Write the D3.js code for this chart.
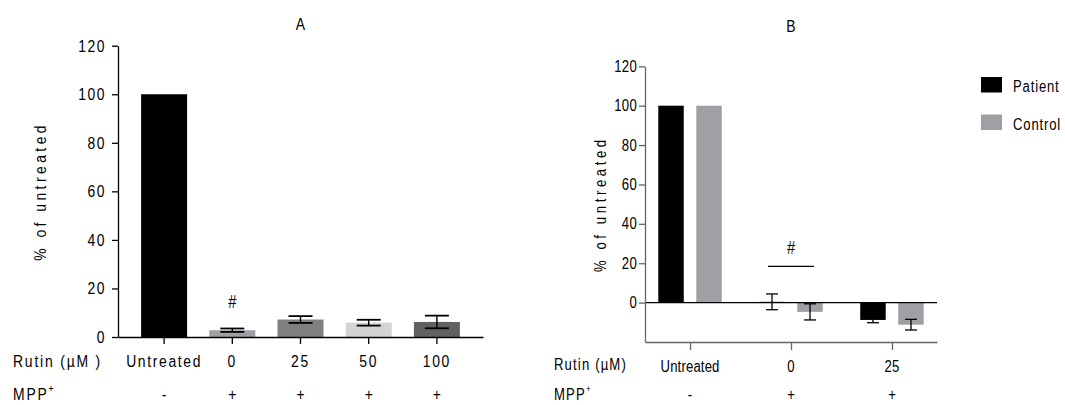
<!DOCTYPE html>
<html><head><meta charset="utf-8">
<script src="https://cdn.jsdelivr.net/npm/d3@7"></script>
<style>
body{margin:0;background:#fff}
svg{display:block}
text{font-family:"Liberation Sans",Arial,sans-serif;fill:#000}
</style>
</head><body>
<svg id="chart" width="1065" height="405"></svg>
<script>
// Panel A: cell response to rutin after MPP+ (single series)
const rutinA = ["Untreated", "0", "25", "50", "100"];
const mppA = ["-", "+", "+", "+", "+"];
const meanA = [100, 2.8, 7.2, 5.9, 6.2];
const sdA = [0, 0.7, 1.4, 1.2, 2.6];
const colorA = ["#000000", "#a0a0a4", "#808080", "#d4d4d4", "#616161"];
const sigA = ["", "#", "", "", ""];

// Panel B: patient vs control cells
const rutinB = ["Untreated", "0", "25"];
const mppB = ["-", "+", "+"];
const seriesB = ["Patient", "Control"];
const patientB = [100, 0.4, -8.8];
const patientSdB = [0, 4.0, 1.4];
const controlB = [100, -4.7, -11.2];
const controlSdB = [0, 4.1, 2.7];
const colorB = ["#000000", "#a0a0a4"];

const yTicks = [0, 20, 40, 60, 80, 100, 120];

const svg = d3.select("#chart");

// condensed text: horizontal squeeze of a regular sans face
function label(parent, str, x, y, o = {}) {
  const sx = o.sx || 0.82;
  const t = parent.append("text")
    .attr("transform", `translate(${x},${y})` + (o.rotate ? ` rotate(${o.rotate})` : "") + ` scale(${sx},1)`)
    .attr("font-size", o.size || 17)
    .attr("letter-spacing", o.ls != null ? o.ls : 2)
    .attr("text-anchor", o.anchor || "start")
    .text(str);
  if (o.central) t.attr("dominant-baseline", "central");
  return t;
}
function mppLabel(parent, x, y, o) {
  const t = label(parent, "MPP", x, y, o);
  t.append("tspan").attr("font-size", (o.size || 17) * 0.62).attr("dy", -8).text("+");
}
function squeezeTicks(axisG, size, ls, gap) {
  axisG.selectAll(".tick text")
    .attr("font-size", size).attr("font-family", null)
    .attr("letter-spacing", ls)
    .attr("x", -gap / 0.82)
    .attr("transform", "scale(0.82,1)")
    .attr("fill", "#000");
}

/* ---------------- Panel A ---------------- */
const gA = svg.append("g");
const yA = d3.scaleLinear().domain([0, 120]).range([337, 45.7]);
const xA = d3.scaleBand().domain(rutinA).range([118, 483]).paddingInner(0.326).paddingOuter(0.339);

gA.selectAll("rect.bar").data(rutinA).join("rect")
  .attr("x", d => xA(d))
  .attr("width", xA.bandwidth())
  .attr("y", (d, i) => yA(meanA[i]))
  .attr("height", (d, i) => yA(0) - yA(meanA[i]))
  .attr("fill", (d, i) => colorA[i]);

const errA = gA.selectAll("g.err").data(rutinA.filter((d, i) => sdA[i] > 0)).join("g")
  .attr("transform", d => `translate(${xA(d) + xA.bandwidth() / 2},0)`);
errA.append("line")
  .attr("y1", d => yA(meanA[rutinA.indexOf(d)] + sdA[rutinA.indexOf(d)]))
  .attr("y2", d => yA(meanA[rutinA.indexOf(d)] - sdA[rutinA.indexOf(d)]))
  .attr("stroke", "#000").attr("stroke-width", 1.4);
[1, -1].forEach(s => {
  errA.append("line")
    .attr("x1", -12).attr("x2", 12)
    .attr("y1", d => yA(meanA[rutinA.indexOf(d)] + s * sdA[rutinA.indexOf(d)]))
    .attr("y2", d => yA(meanA[rutinA.indexOf(d)] + s * sdA[rutinA.indexOf(d)]))
    .attr("stroke", "#000").attr("stroke-width", 1.8);
});

rutinA.forEach((d, i) => {
  if (sigA[i]) label(gA, sigA[i], xA(d) + xA.bandwidth() / 2, yA(11.8), { anchor: "middle", size: 18, ls: 0 });
});

const axYA = gA.append("g").attr("transform", "translate(118,0)")
  .call(d3.axisLeft(yA).tickValues(yTicks).tickSize(6).tickSizeOuter(0));
axYA.selectAll("path,line").attr("stroke", "#000").attr("stroke-width", 1.3);
squeezeTicks(axYA, 17, 1.8, 12);

const axXA = gA.append("g").attr("transform", `translate(0,${yA(0)})`)
  .call(d3.axisBottom(xA).tickSize(7).tickSizeOuter(0).tickFormat(""));
axXA.selectAll("path,line").attr("stroke", "#000").attr("stroke-width", 1.3);

rutinA.forEach((d, i) => {
  const cx = xA(d) + xA.bandwidth() / 2;
  label(gA, d, cx, 367, { anchor: "middle", ls: 2 });
  label(gA, mppA[i], cx, 400, { anchor: "middle", ls: 0 });
});
label(gA, "Rutin (\u00b5M )", 13, 367, { ls: 2.2 });
mppLabel(gA, 13, 400, { ls: 2.2 });
label(gA, "A", (118 + 483) / 2, 30, { anchor: "middle", ls: 0 });
label(gA, "% of untreated", 40, (yA(0) + yA(120)) / 2, { anchor: "middle", rotate: -90, central: true, ls: 4.2 });

/* ---------------- Panel B ---------------- */
const gB = svg.append("g");
const yB = d3.scaleLinear().domain([-20, 120]).range([342, 66.3]);
const xB = d3.scalePoint().domain(rutinB).range([645, 937]).padding(0.446);
const xSub = d3.scaleBand().domain(seriesB).range([-31.75, 31.75]).paddingInner(0.33);

const valsB = [patientB, controlB];
const sdsB = [patientSdB, controlSdB];
const cellsB = [];
rutinB.forEach((c, i) => seriesB.forEach((s, j) =>
  cellsB.push({ c, s, v: valsB[j][i], sd: sdsB[j][i], col: colorB[j] })));

gB.selectAll("rect.bar").data(cellsB).join("rect")
  .attr("x", d => xB(d.c) + xSub(d.s))
  .attr("width", xSub.bandwidth())
  .attr("y", d => yB(Math.max(0, d.v)))
  .attr("height", d => Math.abs(yB(d.v) - yB(0)))
  .attr("fill", d => d.col);

const errB = gB.selectAll("g.err").data(cellsB.filter(d => d.sd > 0)).join("g")
  .attr("transform", d => `translate(${xB(d.c) + xSub(d.s) + xSub.bandwidth() / 2},0)`);
errB.append("line")
  .attr("y1", d => yB(d.v + d.sd)).attr("y2", d => yB(d.v - d.sd))
  .attr("stroke", "#000").attr("stroke-width", 1.3);
[1, -1].forEach(s => {
  errB.append("line")
    .attr("x1", -6).attr("x2", 6)
    .attr("y1", d => yB(d.v + s * d.sd)).attr("y2", d => yB(d.v + s * d.sd))
    .attr("stroke", "#000").attr("stroke-width", 1.3);
});

// zero reference line
gB.append("line")
  .attr("x1", 645).attr("x2", 937)
  .attr("y1", yB(0)).attr("y2", yB(0))
  .attr("stroke", "#000").attr("stroke-width", 1.3);

// significance bracket over the MPP+ group
gB.append("line")
  .attr("x1", xB("0") - 23).attr("x2", xB("0") + 23)
  .attr("y1", yB(18.4)).attr("y2", yB(18.4))
  .attr("stroke", "#000").attr("stroke-width", 1.2);
label(gB, "#", xB("0"), yB(24.9), { anchor: "middle", size: 18, ls: 0 });

const axYB = gB.append("g").attr("transform", "translate(645,0)")
  .call(d3.axisLeft(yB).tickValues(yTicks).tickSize(6).tickSizeOuter(0));
axYB.selectAll("path,line").attr("stroke", "#666").attr("stroke-width", 1.3);
squeezeTicks(axYB, 16, 0.4, 8);

const axXB = gB.append("g").attr("transform", `translate(0,${yB(-20)})`)
  .call(d3.axisBottom(xB).tickSize(8).tickSizeOuter(0).tickFormat(""));
axXB.selectAll("path,line").attr("stroke", "#666").attr("stroke-width", 1.3);

rutinB.forEach((d, i) => {
  label(gB, d, xB(d), 371.5, { anchor: "middle", size: 16, ls: 0.2 });
  label(gB, mppB[i], xB(d), 400, { anchor: "middle", size: 16, ls: 0 });
});
label(gB, "Rutin (\u00b5M)", 554, 370, { size: 16, ls: 1.4 });
mppLabel(gB, 554, 400, { size: 16, ls: 1.4 });
label(gB, "B", 791, 32, { anchor: "middle", ls: 0 });
label(gB, "% of untreated", 601, (yB(-20) + yB(120)) / 2, { anchor: "middle", rotate: -90, central: true, size: 16, ls: 4.4 });

// legend
const leg = gB.selectAll("g.leg").data(seriesB).join("g")
  .attr("transform", (d, i) => `translate(981,${77 + i * 37.5})`);
leg.append("rect").attr("width", 21).attr("height", 15.5).attr("fill", (d, i) => colorB[i]);
leg.each(function (d) { label(d3.select(this), d, 32, 15, { size: 16, ls: 1 }); });
</script>
</body></html>
